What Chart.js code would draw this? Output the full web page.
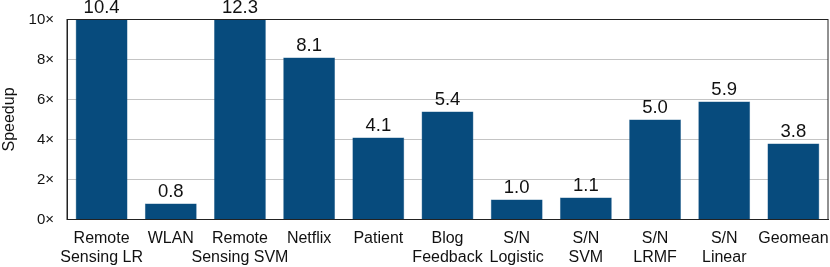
<!DOCTYPE html>
<html>
<head>
<meta charset="utf-8">
<script src="https://cdn.jsdelivr.net/npm/chart.js@4"></script>
<style>
  html, body { margin: 0; padding: 0; background: #fff; }
  #wrap { width: 830px; height: 267px; }
</style>
</head>
<body>
<div id="wrap"><canvas id="speedupChart"></canvas></div>
<script>
// categories and speedups
const categories = [
    ['Remote', 'Sensing LR'], 'WLAN', ['Remote', 'Sensing SVM'], 'Netflix', 'Patient',
    ['Blog', 'Feedback'], ['S/N', 'Logistic'], ['S/N', 'SVM'], ['S/N', 'LRMF'], ['S/N', 'Linear'], 'Geomean'
];
const speedups = [10.4, 0.8, 12.3, 8.1, 4.1, 5.4, 1.0, 1.1, 5.0, 5.9, 3.8];
const yTicks = [0, 2, 4, 6, 8, 10];

const FONT = 'Liberation Sans, Arial, Helvetica, sans-serif';

// draw value labels above bars, and a frame around the plot
const barLabels = {
    id: 'barLabels',
    afterDatasetsDraw(chart) {
        const ctx = chart.ctx;
        const meta = chart.getDatasetMeta(0);
        const yScale = chart.scales.y;
        ctx.save();
        ctx.fillStyle = '#111';
        ctx.font = '18.5px ' + FONT;
        ctx.textAlign = 'center';
        ctx.textBaseline = 'bottom';
        meta.data.forEach((bar, i) => {
            const v = speedups[i];
            const y = yScale.getPixelForValue(Math.min(v, yScale.max));
            ctx.fillText(v.toFixed(1), bar.x, y - 2);
        });
        const a = chart.chartArea;
        ctx.strokeStyle = '#222';
        ctx.lineWidth = 1;
        ctx.strokeRect(a.left, a.top, a.right - a.left, a.bottom - a.top);
        ctx.restore();
    }
};

const ctx = document.getElementById('speedupChart').getContext('2d');
new Chart(ctx, {
    type: 'bar',
    data: {
        labels: categories,
        datasets: [{
            label: 'Speedup',
            data: speedups,
            backgroundColor: '#074b7d',
            borderColor: '#2a6391',
            borderWidth: 0.5,
            barPercentage: 0.75,
            categoryPercentage: 1.0
        }]
    },
    options: {
        responsive: true,
        maintainAspectRatio: false,
        animation: false,
        layout: { padding: { top: 19.5, right: 2, left: 0, bottom: 0 } },
        plugins: {
            legend: { display: false },
            tooltip: { enabled: false }
        },
        scales: {
            y: {
                min: 0,
                max: 10,
                afterBuildTicks(axis) {
                    axis.ticks = yTicks.map(v => ({ value: v }));
                },
                afterFit(axis) { axis.width = 67; axis.paddingTop = 0; axis.paddingBottom = 0; },
                ticks: {
                    callback: v => v + '×',
                    color: '#111',
                    font: { family: FONT, size: 15 },
                    padding: 13
                },
                grid: { color: '#c4c4c4', drawTicks: false, lineWidth: 1 },
                border: { display: true, color: '#222' },
                title: {
                    display: true,
                    text: 'Speedup',
                    color: '#111',
                    font: { family: FONT, size: 16 },
                    padding: { top: 0, bottom: 4 }
                }
            },
            x: {
                afterFit(axis) { axis.height = 47.5; axis.paddingLeft = 0; axis.paddingRight = 0; },
                ticks: {
                    color: '#111',
                    font: { family: FONT, size: 16, lineHeight: 1.2 },
                    padding: 9,
                    maxRotation: 0,
                    autoSkip: false
                },
                grid: { display: false, drawTicks: false },
                border: { display: true, color: '#222' }
            }
        }
    },
    plugins: [barLabels]
});
</script>
</body>
</html>
